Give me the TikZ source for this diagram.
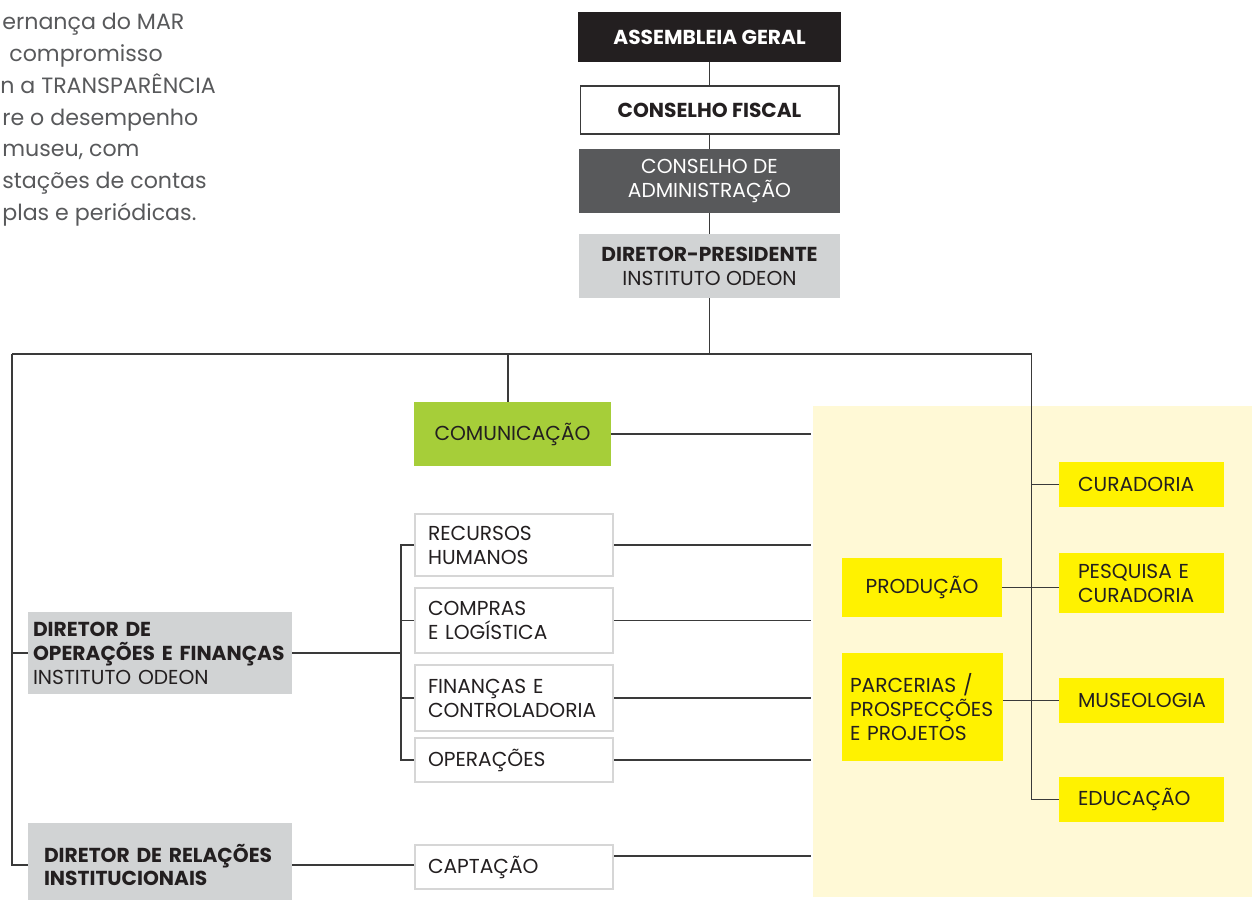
\documentclass[tikz,border=0pt]{standalone}
\usepackage{fontspec}
\setmainfont{Poppins}
\definecolor{ink}{HTML}{231F20}
\definecolor{asmfill}{HTML}{231F20}
\definecolor{adminfill}{HTML}{58595B}
\definecolor{grayfill}{HTML}{D1D3D4}
\definecolor{greenfill}{HTML}{A6CE39}
\definecolor{yellowfill}{HTML}{FFF200}
\definecolor{paleyellow}{HTML}{FFF9D6}
\definecolor{linecol}{HTML}{3A3A3A}
\definecolor{boxborder}{HTML}{D6D6D6}
\definecolor{introcol}{HTML}{58595B}
\newcommand{\boxfont}{\fontsize{11.5}{13.6}\selectfont}
\newcommand{\introfont}{\fontsize{12.6}{18}\selectfont}
\begin{document}
\begin{tikzpicture}[x=0.02cm, y=-0.02cm,
  base/.style={inner sep=0pt, font=\boxfont, text=ink},
  headbox/.style={base, align=center, minimum width=5.24cm, minimum height=1.28cm},
  unitbox/.style={base, fill=white, draw=boxborder, line width=1.2pt, align=left,
    inner xsep=0.26cm, text width=3.44cm},
  areabox/.style={base, fill=yellowfill, align=left, inner xsep=0.38cm, text width=2.54cm,
    minimum height=0.9cm},
  dirbox/.style={base, fill=grayfill, align=left, minimum height=1.64cm},
  link/.style={draw=linecol, line width=0.7pt},
  intro/.style={inner sep=0pt, anchor=base west, font=\introfont, text=introcol}]
\useasboundingbox (0,0) rectangle (1252,900);

% fundo amarelo
\fill[paleyellow] (813,406) rectangle (1260,897);

% texto de abertura
\node[intro] (t1) at (2,29) {ernança do MAR};
\node[intro] (t2) at (9,61) {compromisso};
\node[intro] (t3) at (0,93) {n a TRANSPARÊNCIA};
\node[intro] (t4) at (2,125) {re o desempenho};
\node[intro] (t5) at (2,156) {museu, com};
\node[intro] (t6) at (2,188) {stações de contas};
\node[intro] (t7) at (2,220) {plas e periódicas.};

% conselhos
\node[headbox, fill=asmfill, text=white, font=\boxfont\bfseries, minimum width=5.28cm,
  minimum height=1cm] (asm) at (709.5,37) {ASSEMBLEIA GERAL};
\node[headbox, fill=white, draw=linecol, line width=0.6pt, font=\boxfont\bfseries,
  minimum width=5.18cm, minimum height=0.96cm] (fiscal) at (709.5,110) {CONSELHO FISCAL};
\node[headbox, fill=adminfill, text=white] (admin) at (709.5,181) {CONSELHO DE\\ADMINISTRAÇÃO};
\node[headbox, fill=grayfill] (pres) at (709.5,266) {\textbf{DIRETOR-PRESIDENTE}\\INSTITUTO ODEON};

% diretores
\node[dirbox, inner xsep=0.1cm, text width=5.08cm] (dop) at (160,653)
  {\textbf{DIRETOR DE}\\\textbf{OPERAÇÕES E FINANÇAS}\\INSTITUTO ODEON};
\node[dirbox, inner xsep=0.32cm, text width=4.64cm, minimum height=1.68cm] (drel) at (160,865)
  {\textbf{DIRETOR DE RELAÇÕES}\\\textbf{INSTITUCIONAIS}};

% áreas
\node[base, fill=greenfill, minimum width=3.94cm, minimum height=1.28cm] (com) at (512.5,434) {COMUNICAÇÃO};
\node[unitbox, minimum height=1.24cm] (rh) at (514,545) {RECURSOS\\HUMANOS};
\node[unitbox, minimum height=1.3cm] (compras) at (514,620.5) {COMPRAS\\E LOGÍSTICA};
\node[unitbox, minimum height=1.32cm] (fin) at (514,698) {FINANÇAS E\\CONTROLADORIA};
\node[unitbox, minimum height=0.88cm] (oper) at (514,760) {OPERAÇÕES};
\node[unitbox, minimum height=0.88cm] (capt) at (514,867) {CAPTAÇÃO};

% museu
\node[base, fill=yellowfill, minimum width=3.2cm, minimum height=1.18cm] (prod) at (922,587.5) {PRODUÇÃO};
\node[base, fill=yellowfill, align=left, inner xsep=0.16cm, text width=2.9cm,
  minimum height=2.16cm] (parc) at (922.5,707) {PARCERIAS /\\PROSPECÇÕES\\E PROJETOS};
\node[areabox] (cur) at (1141.5,484.5) {CURADORIA};
\node[areabox, minimum height=1.2cm] (pesq) at (1141.5,583) {PESQUISA E\\CURADORIA};
\node[areabox] (mus) at (1141.5,700.5) {MUSEOLOGIA};
\node[areabox] (edu) at (1141.5,799.5) {EDUCAÇÃO};

% barramentos
\coordinate (ls) at (12,354);
\coordinate (rs) at (1031.5,354);
\coordinate (br) at (401,0);
\coordinate (edge) at (811,0);

% ligações
\draw[link] (asm.south) -- (fiscal.north);
\draw[link] (fiscal.south) -- (admin.north);
\draw[link] (admin.south) -- (pres.north);
\draw[link] (pres.south) -- (pres.south |- ls);
\draw[link] (ls) -- (rs);
\draw[link] (com.north -| 508,0) -- (ls -| 508,0);
\draw[link] (ls) |- (drel.west);
\draw[link] (dop.west -| ls) -- (dop.west);
\draw[link] (rs) |- (edu.west);
\draw[link] (cur.west -| rs) -- (cur.west);
\draw[link] (mus.west -| rs) -- (mus.west);
\draw[link] (prod.east) -- (prod.east -| pesq.west);
\draw[link] (parc.east |- mus.west) -- (mus.west);
\draw[link] (dop.east) -- (dop.east -| br);
\draw[link] (rh.west) -- (rh.west -| br) -- (oper.west -| br) -- (oper.west);
\draw[link] (compras.west -| br) -- (compras.west);
\draw[link] (fin.west -| br) -- (fin.west);
\draw[link] (drel.east) -- (drel.east -| capt.west);
\draw[link] (com.east) -- (com.east -| edge);
\draw[link] (rh.east) -- (rh.east -| edge);
\draw[link] (compras.east) -- (compras.east -| edge);
\draw[link] (fin.east) -- (fin.east -| edge);
\draw[link] (oper.east) -- (oper.east -| edge);
\draw[link] ([yshift=0.22cm]capt.east) -- ([yshift=0.22cm]capt.east -| edge);
\end{tikzpicture}
\end{document}
